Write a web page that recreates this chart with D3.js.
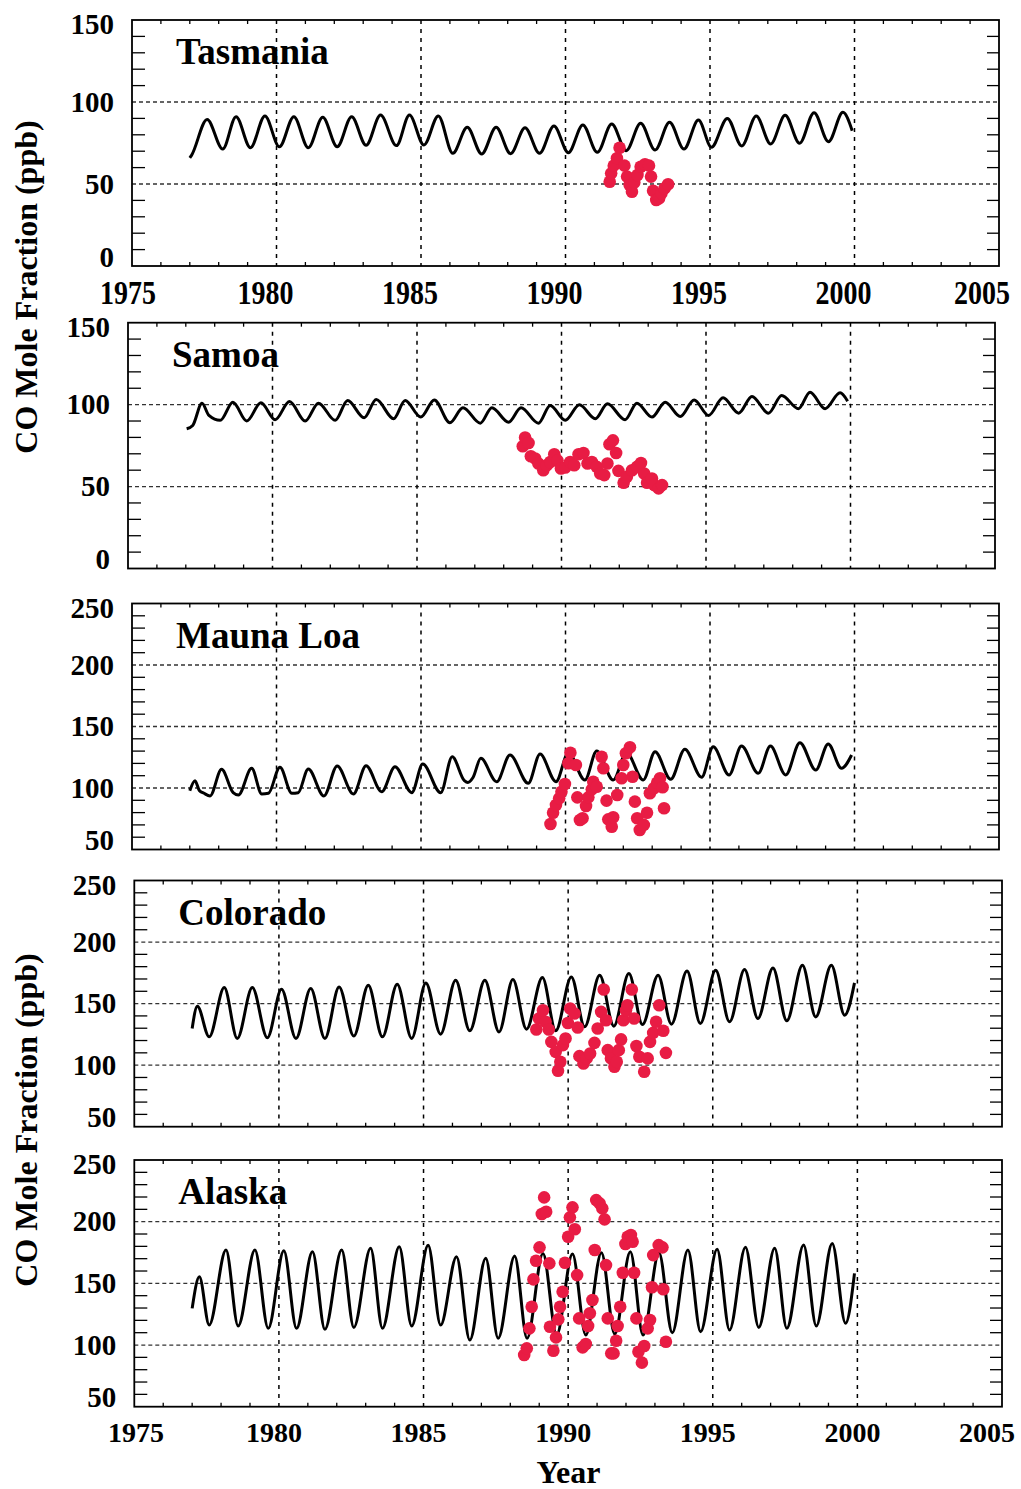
<!DOCTYPE html>
<html>
<head>
<meta charset="utf-8">
<script src="https://cdn.jsdelivr.net/npm/d3@7"></script>
<style>
  body { margin: 0; background: #fff; }
  text { font-family: "Liberation Serif", "Times New Roman", serif; font-weight: bold; fill: #000; }
</style>
</head>
<body>
<script>
// Year axis shared by all panels
var yearRange = [1975, 2005],
    yearLabels = [1975, 1980, 1985, 1990, 1995, 2000, 2005];

// CO mixing ratio ranges (ppb)
var southRange = [0, 150],
    northRange = [50, 250];

// ---- model curves: [year, ppb] read at peaks / troughs ----
var tasmaniaModel = [[1977.0,66],[1977.06,67.5],[1977.6,89.4],[1978.14,71.3],[1978.6,91],[1979.1,72.1],[1979.6,91.5],[1980.1,72.7],[1980.6,91],[1981.1,72.1],[1981.6,90.7],[1982.1,72.7],[1982.6,91],[1983.1,73.6],[1983.6,92],[1984.15,73.4],[1984.6,92],[1985.1,73.8],[1985.6,91.5],[1986.1,68.7],[1986.6,84.6],[1987.1,68.3],[1987.6,84.6],[1988.1,68.5],[1988.6,84.3],[1989.1,68.7],[1989.6,85.4],[1990.1,69.1],[1990.6,86],[1991.1,69.3],[1991.6,86.6],[1992.1,70.3],[1992.6,87],[1993.1,70.7],[1993.6,87.6],[1994.1,71.3],[1994.6,89],[1995.05,72.4],[1995.6,90],[1996.1,73.2],[1996.6,91.5],[1997.1,74.4],[1997.6,91.9],[1998.1,74.8],[1998.6,93.5],[1999.1,75.8],[1999.6,93.7],[1999.92,82.5]];

var samoaModel = [[1977.03,85.3],[1977.24,87.3],[1977.56,100.9],[1977.8,93.4],[1978.19,90.4],[1978.63,101.5],[1979.11,90],[1979.6,101.1],[1980.09,90.8],[1980.59,101.9],[1981.13,90],[1981.59,100.9],[1982.17,90.4],[1982.6,102.5],[1983.17,92],[1983.59,103.1],[1984.19,91.4],[1984.59,102.5],[1985.13,92.4],[1985.6,102.9],[1986.14,89],[1986.59,98.1],[1987.19,88.7],[1987.59,98.1],[1988.17,89.3],[1988.6,98.1],[1989.2,88.7],[1989.61,99.5],[1990.13,90.4],[1990.62,99.9],[1991.17,91.4],[1991.59,100.5],[1992.2,90.8],[1992.61,100.9],[1993.13,92.4],[1993.59,101.5],[1994.11,92.8],[1994.59,102.9],[1995.09,93.4],[1995.59,104.2],[1996.13,94.8],[1996.59,105],[1997.16,94.8],[1997.62,105.6],[1998.2,97.5],[1998.6,107.6],[1999.12,97.5],[1999.64,107.2],[1999.9,102.1]];

var maunaLoaModel = [[1977.0,97.8],[1977.18,105.9],[1977.33,98],[1977.49,95.7],[1977.7,93.5],[1978.1,115.2],[1978.5,96.2],[1978.68,94.3],[1979.14,116],[1979.49,95.1],[1979.72,95.7],[1980.12,116.8],[1980.53,95.7],[1980.75,96.2],[1981.1,115.4],[1981.64,93.5],[1982.1,117.9],[1982.66,95.1],[1983.1,118.1],[1983.64,97],[1984.1,117.3],[1984.68,96.2],[1985.06,119.5],[1985.68,96.2],[1986.08,125.4],[1986.5,106],[1986.62,104.5],[1986.8,108.5],[1987.07,124.1],[1987.62,105.1],[1988.08,126.8],[1988.71,103.8],[1989.12,127.6],[1989.67,105.1],[1990.1,128.7],[1990.67,106.5],[1991.08,130],[1991.65,106.5],[1992.11,128.7],[1992.69,106.5],[1993.1,129.5],[1993.64,107.1],[1994.13,131.5],[1994.71,108.7],[1995.11,133.6],[1995.66,110.6],[1996.09,134.1],[1996.67,112],[1997.09,134.1],[1997.62,110.6],[1998.11,136.8],[1998.66,114.6],[1999.09,135.8],[1999.55,116],[1999.9,126.8]];

var coloradoModel = [[1977.0,129.8],[1977.18,147.9],[1977.59,123],[1978.11,163],[1978.56,121.7],[1979.08,163],[1979.6,122.2],[1980.09,161.7],[1980.59,121.7],[1981.1,162.2],[1981.59,121.7],[1982.08,163.5],[1982.59,123.6],[1983.09,164.9],[1983.58,123],[1984.09,165.7],[1984.59,121.7],[1985.08,166.8],[1985.59,125.2],[1986.11,169],[1986.6,127.9],[1987.12,169],[1987.61,127],[1988.09,169.5],[1988.56,129.2],[1989.11,171.2],[1989.57,127.9],[1990.11,171.7],[1990.57,131.1],[1991.09,173],[1991.58,131.7],[1992.1,174.4],[1992.57,133],[1993.11,173],[1993.57,133.3],[1994.11,176.5],[1994.57,133.9],[1995.1,177.1],[1995.58,135.2],[1996.1,177.6],[1996.56,137.9],[1997.08,179],[1997.56,136],[1998.1,181.1],[1998.56,139.2],[1999.1,181.1],[1999.56,140.6],[1999.9,166.8]];

var alaskaModel = [[1977.0,129.7],[1977.25,155.3],[1977.59,116.2],[1978.17,177],[1978.59,115.4],[1979.17,177],[1979.63,113.5],[1980.17,176.4],[1980.61,113.5],[1981.16,175.6],[1981.59,112.7],[1982.17,177],[1982.59,114.3],[1983.17,178.4],[1983.58,113.5],[1984.16,179.7],[1984.59,115.4],[1985.16,180.8],[1985.59,116.2],[1986.14,171.6],[1986.6,104.1],[1987.15,170.3],[1987.58,105.4],[1988.15,172.1],[1988.58,105.4],[1989.13,174.3],[1989.6,108.1],[1990.15,173.7],[1990.61,108.1],[1991.15,174.8],[1991.61,108.9],[1992.15,175.6],[1992.59,108.1],[1993.14,174.8],[1993.6,110],[1994.14,177],[1994.58,110.8],[1995.15,177.6],[1995.58,112.2],[1996.13,179.2],[1996.59,114.3],[1997.14,178.4],[1997.56,113.5],[1998.14,181],[1998.58,115.4],[1999.13,182.4],[1999.59,117.6],[1999.9,158.1]];

// ---- observations (red dots): [year, ppb] ----
var tasmaniaObs = [[1991.53,51.4],[1991.58,56.5],[1991.67,61.2],[1991.78,65.7],[1991.87,72.1],[1992.04,61.2],[1992.13,54.5],[1992.22,49.4],[1992.3,45.3],[1992.38,50.9],[1992.49,55.5],[1992.6,60.5],[1992.75,62],[1992.89,61.2],[1992.96,54.5],[1993.03,45.9],[1993.14,40.2],[1993.24,41.3],[1993.32,44.3],[1993.43,47.4],[1993.55,49.8]];

var samoaObs = [[1988.66,74.6],[1988.74,79.9],[1988.86,76.6],[1988.94,68.5],[1989.09,67.1],[1989.2,64.1],[1989.37,60],[1989.49,63],[1989.61,65],[1989.75,69.7],[1989.86,66],[1989.98,61],[1990.13,61.6],[1990.3,65],[1990.44,63],[1990.59,69.7],[1990.76,70.5],[1990.9,64.1],[1991.05,65],[1991.22,62],[1991.34,58],[1991.48,57],[1991.59,64.1],[1991.66,75.8],[1991.78,78.2],[1991.89,70.5],[1991.97,59.6],[1992.15,52.3],[1992.26,55.9],[1992.44,60],[1992.61,62],[1992.75,64.4],[1992.86,58],[1992.96,52.3],[1993.13,54.9],[1993.21,50.9],[1993.36,48.9],[1993.48,50.9]];

var maunaLoaObs = [[1989.48,70.7],[1989.57,79.9],[1989.67,86.2],[1989.78,91.6],[1989.86,97],[1989.98,103.3],[1990.17,128.7],[1990.1,120.1],[1990.36,118.7],[1990.41,92.4],[1990.5,74],[1990.59,75.4],[1990.71,85.4],[1990.79,92.4],[1990.91,98.9],[1990.96,105.1],[1991.08,101],[1991.25,125.4],[1991.31,116],[1991.42,89.7],[1991.48,74.5],[1991.6,68.5],[1991.65,76.2],[1991.79,94.3],[1991.94,107.9],[1992.0,118.7],[1992.09,128.2],[1992.23,133.1],[1992.32,109.2],[1992.4,88.9],[1992.48,75.4],[1992.57,65.9],[1992.71,70],[1992.82,79.9],[1992.92,95.7],[1993.06,99.8],[1993.17,104.3],[1993.27,107.9],[1993.36,100.6],[1993.41,83.5]];

var coloradoObs = [[1988.9,129],[1988.99,137.9],[1989.13,144.6],[1989.22,135.2],[1989.33,129],[1989.42,118.9],[1989.57,110.8],[1989.65,95.4],[1989.73,102.7],[1989.82,116.3],[1989.91,121.7],[1989.99,134.3],[1990.07,146],[1990.22,142],[1990.33,130.6],[1990.39,107.3],[1990.53,101.4],[1990.64,105.5],[1990.76,109.5],[1990.91,118.1],[1991.02,129.8],[1991.14,143.3],[1991.23,161.4],[1991.31,136.5],[1991.37,112.2],[1991.48,105.5],[1991.6,98.7],[1991.68,102.7],[1991.75,112.2],[1991.83,120.9],[1991.91,136.5],[1992.0,144.6],[1992.05,148.7],[1992.2,161.4],[1992.28,137.9],[1992.36,115.5],[1992.46,106.8],[1992.63,94.6],[1992.75,105.5],[1992.83,118.9],[1992.94,126.2],[1993.04,135.2],[1993.15,148.7],[1993.29,127.9],[1993.38,110]];

var alaskaObs = [[1988.48,91.9],[1988.57,97.3],[1988.66,113.5],[1988.74,131],[1988.8,153.2],[1988.89,168.3],[1989.01,179.2],[1989.09,206.2],[1989.24,208.1],[1989.17,219.7],[1989.35,166.2],[1989.37,114.8],[1989.49,95.4],[1989.58,106.2],[1989.66,120.8],[1989.72,131],[1989.81,143.2],[1989.89,166.7],[1990.0,187.8],[1990.06,203.5],[1990.15,211.6],[1990.23,193.8],[1990.31,156.7],[1990.38,121.6],[1990.5,98.1],[1990.61,100.8],[1990.69,115.4],[1990.75,125.7],[1990.84,136.5],[1990.92,177],[1990.97,217.5],[1991.09,214.8],[1991.18,210.8],[1991.26,201.9],[1991.31,164.8],[1991.37,121.6],[1991.49,93.2],[1991.57,93.2],[1991.66,103.5],[1991.71,115.4],[1991.8,131],[1991.89,158.6],[1991.98,181.9],[1992.06,187.8],[1992.17,189.2],[1992.23,183.7],[1992.28,158.6],[1992.36,121.6],[1992.43,94.6],[1992.55,85.7],[1992.63,99.2],[1992.75,113.5],[1992.83,120.3],[1992.9,146.8],[1992.94,172.9],[1993.13,181],[1993.26,179.2],[1993.29,145.2],[1993.38,102.7]];

var W = 1021, H = 1489;
var red = "#e81c44";

// panel boxes as they sit on the page
var panels = [
    {name: "Tasmania",  model: tasmaniaModel, obs: tasmaniaObs, range: southRange, left: 132,   right: 999,  top: 20,    bottom: 266,    xLabels: {base: 304, shift: 11, lo: 128, hi: 982, sy: 1.17}},
    {name: "Samoa",     model: samoaModel,    obs: samoaObs,    range: southRange, left: 128,   right: 995,  top: 322.7, bottom: 568.5},
    {name: "Mauna Loa", model: maunaLoaModel, obs: maunaLoaObs, range: northRange, left: 132,   right: 999,  top: 603.5, bottom: 849.5},
    {name: "Colorado",  model: coloradoModel, obs: coloradoObs, range: northRange, left: 134.3, right: 1002, top: 880.5, bottom: 1126.7},
    {name: "Alaska",    model: alaskaModel,   obs: alaskaObs,   range: northRange, left: 134.3, right: 1002, top: 1160,  bottom: 1406.7, xLabels: {base: 1441.5, shift: 5, lo: 136, hi: 987, sy: 1}}
];

var svg = d3.select("body").append("svg")
    .attr("width", W)
    .attr("height", H);

panels.forEach(drawPanel);

function drawPanel(p) {
    var x = d3.scaleLinear().domain(yearRange).range([p.left, p.right]);
    var y = d3.scaleLinear().domain(p.range).range([p.bottom, p.top]);
    var g = svg.append("g");

    // horizontal dashed grid
    var hGrid = d3.range(p.range[0] + 50, p.range[1], 50);
    g.selectAll("line.hgrid").data(hGrid).enter().append("line")
        .attr("x1", p.left).attr("x2", p.right)
        .attr("y1", d => y(d)).attr("y2", d => y(d))
        .attr("stroke", "#333").attr("stroke-width", 1.3)
        .attr("stroke-dasharray", "4,3");

    // vertical dotted grid
    var vGrid = d3.range(1980, 2005, 5);
    g.selectAll("line.vgrid").data(vGrid).enter().append("line")
        .attr("x1", d => x(d)).attr("x2", d => x(d))
        .attr("y1", p.top).attr("y2", p.bottom)
        .attr("stroke", "#000").attr("stroke-width", 1.5)
        .attr("stroke-dasharray", "4,5");

    // y minor ticks, both sides, inward
    var yMinor = d3.range(p.range[0] + 10, p.range[1], 10).filter(v => v % 50 !== 0);
    g.selectAll("line.ytl").data(yMinor).enter().append("line")
        .attr("x1", p.left).attr("x2", p.left + 13)
        .attr("y1", d => y(d)).attr("y2", d => y(d))
        .attr("stroke", "#000").attr("stroke-width", 1.3);
    g.selectAll("line.ytr").data(yMinor).enter().append("line")
        .attr("x1", p.right - 12).attr("x2", p.right)
        .attr("y1", d => y(d)).attr("y2", d => y(d))
        .attr("stroke", "#000").attr("stroke-width", 1.3);

    // yearly ticks, top and bottom
    var xMinor = d3.range(1976, 2005).filter(v => v % 5 !== 0);
    g.selectAll("line.xtb").data(xMinor).enter().append("line")
        .attr("x1", d => x(d)).attr("x2", d => x(d))
        .attr("y1", p.bottom).attr("y2", p.bottom - 4)
        .attr("stroke", "#000").attr("stroke-width", 1.3);
    g.selectAll("line.xtt").data(xMinor).enter().append("line")
        .attr("x1", d => x(d)).attr("x2", d => x(d))
        .attr("y1", p.top).attr("y2", p.top + 4)
        .attr("stroke", "#000").attr("stroke-width", 1.3);

    // frame
    g.append("rect")
        .attr("x", p.left).attr("y", p.top)
        .attr("width", p.right - p.left).attr("height", p.bottom - p.top)
        .attr("fill", "none").attr("stroke", "#000").attr("stroke-width", 1.8);

    // model curve
    var line = d3.line()
        .x(d => x(d[0]))
        .y(d => y(d[1]))
        .curve(d3.curveMonotoneX);
    g.append("path")
        .datum(p.model)
        .attr("d", line)
        .attr("fill", "none")
        .attr("stroke", "#000")
        .attr("stroke-width", 3)
        .attr("stroke-linejoin", "round");

    // observations
    g.selectAll("circle.obs").data(p.obs).enter().append("circle")
        .attr("cx", d => x(d[0]))
        .attr("cy", d => y(d[1]))
        .attr("r", 6.3)
        .attr("fill", red);

    // site name
    g.append("text")
        .attr("x", p.left + 44)
        .attr("y", p.top + 44)
        .attr("font-size", 37)
        .text(p.name);

    // y tick labels
    var yLab = d3.range(p.range[0], p.range[1] + 1, 50);
    g.selectAll("text.ylab").data(yLab).enter().append("text")
        .attr("x", p.left - 18)
        .attr("y", d => Math.min(Math.max(y(d), p.top + 4.5), p.bottom - 9) + 9.6)
        .attr("text-anchor", "end")
        .attr("font-size", 29)
        .text(d => d);

    // x tick labels (top and bottom panels only)
    if (p.xLabels) {
        var xl = p.xLabels;
        g.selectAll("text.xlab").data(yearLabels).enter().append("text")
            .attr("transform", d => "translate(" + Math.min(Math.max(x(d) - xl.shift, xl.lo), xl.hi) + "," + xl.base + ") scale(1," + xl.sy + ")")
            .attr("text-anchor", "middle")
            .attr("font-size", 28)
            .text(d => d);
    }
}

// axis titles
[287, 1120].forEach(function (cy) {
    svg.append("text")
        .attr("transform", "translate(37," + cy + ") rotate(-90)")
        .attr("text-anchor", "middle")
        .attr("font-size", 32)
        .text("CO Mole Fraction (ppb)");
});

svg.append("text")
    .attr("x", 568.5)
    .attr("y", 1483)
    .attr("text-anchor", "middle")
    .attr("font-size", 32)
    .text("Year");
</script>
</body>
</html>
